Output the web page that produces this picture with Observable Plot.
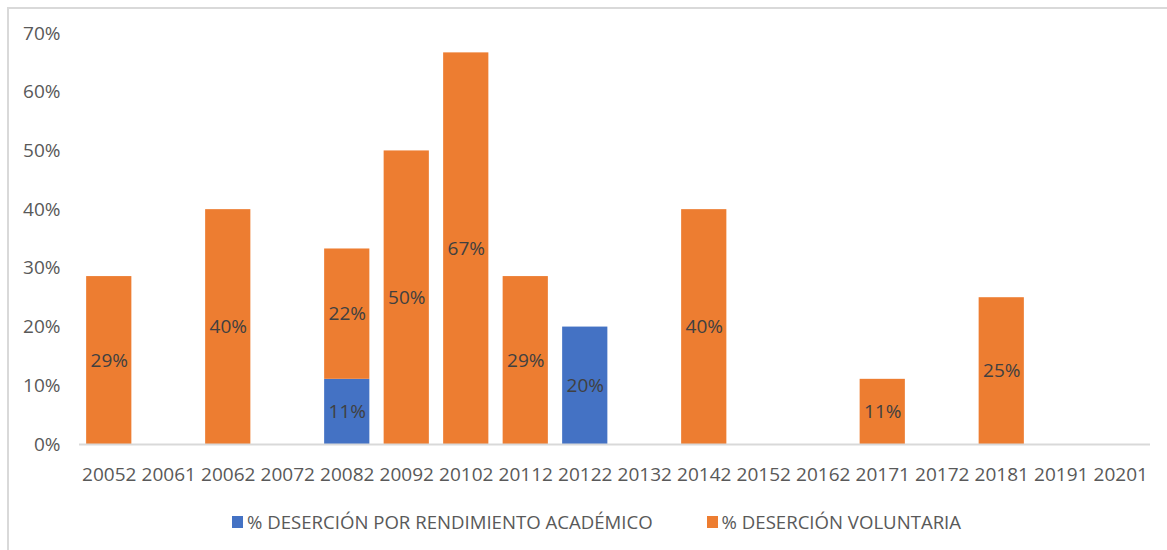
<!DOCTYPE html>
<html>
<head>
<meta charset="utf-8">
<script src="https://cdn.jsdelivr.net/npm/d3@7"></script>
<script src="https://cdn.jsdelivr.net/npm/@observablehq/plot@0.6"></script>
<style>
  html, body { margin: 0; padding: 0; background: #fff; }
  body { width: 1167px; height: 550px; position: relative; overflow: hidden; font-family: "Open Sans", sans-serif; }
  #frame { position: absolute; left: 7px; top: 7px; width: 1200px; height: 600px; border-left: 2px solid #d9d9d9; border-top: 2px solid #d9d9d9; }
  #chart { position: absolute; left: 0; top: 0; }
  #legend { position: absolute; left: 232px; top: 509px; display: flex; align-items: center; font-size: 18.6px; color: #595959; white-space: nowrap; }
  .item { display: flex; align-items: center; }
  .sw { width: 11px; height: 12px; margin-right: 4px; }
</style>
</head>
<body>
<div id="frame"></div>
<div id="chart"></div>
<div id="legend"></div>
<script>
const categories = ["20052","20061","20062","20072","20082","20092","20102","20112","20122","20132","20142","20152","20162","20171","20172","20181","20191","20201"];
const rendimiento = [0, 0, 0, 0, 0.111, 0, 0, 0, 0.20, 0, 0, 0, 0, 0, 0, 0, 0, 0];
const voluntaria  = [0.286, 0, 0.40, 0, 0.222, 0.50, 0.667, 0.286, 0, 0, 0.40, 0, 0, 0.111, 0, 0.25, 0, 0];
const seriesNames = ["% DESERCIÓN POR RENDIMIENTO ACADÉMICO", "% DESERCIÓN VOLUNTARIA"];
const seriesColors = ["#4472C4", "#ED7D31"];
const yTicks = [0, 0.1, 0.2, 0.3, 0.4, 0.5, 0.6, 0.7];

const data = [];
categories.forEach((c, i) => {
  data.push({cat: c, series: seriesNames[0], value: rendimiento[i]});
  data.push({cat: c, series: seriesNames[1], value: voluntaria[i]});
});

const fmt = v => v > 0 ? Math.round(v * 100) + "%" : "";

const chart = Plot.plot({
  width: 1167,
  height: 500,
  marginLeft: 79,
  marginRight: 17,
  marginTop: 33,
  marginBottom: 56,
  style: {fontFamily: "Open Sans, sans-serif", fontSize: "19px", color: "#595959", background: "transparent"},
  x: {domain: categories, paddingInner: 0.24, paddingOuter: 0.12, round: false, label: null, tickSize: 0, tickPadding: 23},
  y: {domain: [0, 0.7], ticks: yTicks, tickFormat: d => Math.round(d * 100) + "%", label: null, tickSize: 0, tickPadding: 19},
  color: {domain: seriesNames, range: seriesColors},
  marks: [
    Plot.barY(data, Plot.stackY({x: "cat", y: "value", fill: "series", order: seriesNames})),
    Plot.ruleY([0], {stroke: "#d9d9d9", strokeWidth: 2}),
    Plot.text(data, Plot.stackY({x: "cat", y: "value", z: "series", order: seriesNames, text: d => fmt(d.value), fill: "#404040", fontSize: 19}))
  ]
});
document.getElementById("chart").appendChild(chart);

const legend = document.getElementById("legend");
seriesNames.forEach((name, i) => {
  const item = document.createElement("div");
  item.className = "item";
  if (i > 0) item.style.marginLeft = "54px";
  const sw = document.createElement("div");
  sw.className = "sw";
  sw.style.background = seriesColors[i];
  const label = document.createElement("span");
  label.textContent = name;
  item.appendChild(sw);
  item.appendChild(label);
  legend.appendChild(item);
});
</script>
</body>
</html>
